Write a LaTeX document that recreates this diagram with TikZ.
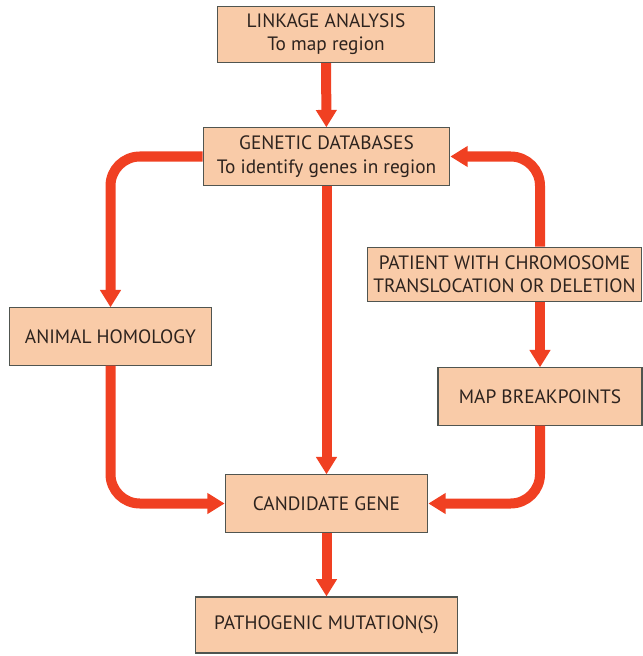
\documentclass[tikz,border=0pt]{standalone}
\usepackage{fontspec}
\setmainfont{PT Sans}
\usetikzlibrary{arrows.meta,positioning}

\definecolor{boxfill}{RGB}{249,203,168}
\definecolor{boxline}{RGB}{80,85,80}
\definecolor{flowred}{RGB}{240,64,34}
\definecolor{txt}{RGB}{45,35,30}

\begin{document}
\begin{tikzpicture}[
    x=0.75pt, y=-0.75pt,
    stage/.style={rectangle,draw=boxline,line width=0.8pt,fill=boxfill,
                  text=txt,align=center,inner sep=2pt,
                  font=\fontsize{14.5}{17.5}\selectfont},
    flow/.style={draw=flowred,line width=7.5pt,rounded corners=22pt,
                 -{Triangle[width=15pt,length=13pt]}}
]
    \useasboundingbox (0,0) rectangle (642,656);

    % Boxes, placed at pixel centres
    \node[stage,minimum width=163pt,minimum height=42pt] (link)    at (326,34.5)  {LINKAGE ANALYSIS\\To map region};
    \node[stage,minimum width=185pt,minimum height=43pt] (gendb)   at (326.5,156.5) {GENETIC DATABASES\\To identify genes in region};
    \node[stage,minimum width=151pt,minimum height=43pt] (animal)  at (110.5,336.5) {ANIMAL HOMOLOGY};
    \node[stage,minimum width=206pt,minimum height=41pt] (patient) at (504.5,274.5) {PATIENT WITH CHROMOSOME\\TRANSLOCATION OR DELETION};
    \node[stage,minimum width=153pt,minimum height=43pt] (mapbp)   at (540,396.5) {MAP BREAKPOINTS};
    \node[stage,minimum width=152pt,minimum height=43pt] (cand)    at (326.5,503.5) {CANDIDATE GENE};
    \node[stage,minimum width=196pt,minimum height=42pt] (patho)   at (326.5,625) {PATHOGENIC MUTATION(S)};

    % Main column
    \draw[flow] (link) -- (gendb);
    \draw[flow] (gendb) -- (cand);
    \draw[flow] (cand) -- (patho);

    % Left branch
    \draw[flow] (gendb.west) -| (animal.north);
    \draw[flow] (animal.south) |- (cand.west);

    % Right branch
    \draw[flow] (patient.north -| mapbp) |- (gendb.east);
    \draw[flow] (patient.south -| mapbp) -- (mapbp.north);
    \draw[flow] (mapbp.south) |- (cand.east);
\end{tikzpicture}
\end{document}
